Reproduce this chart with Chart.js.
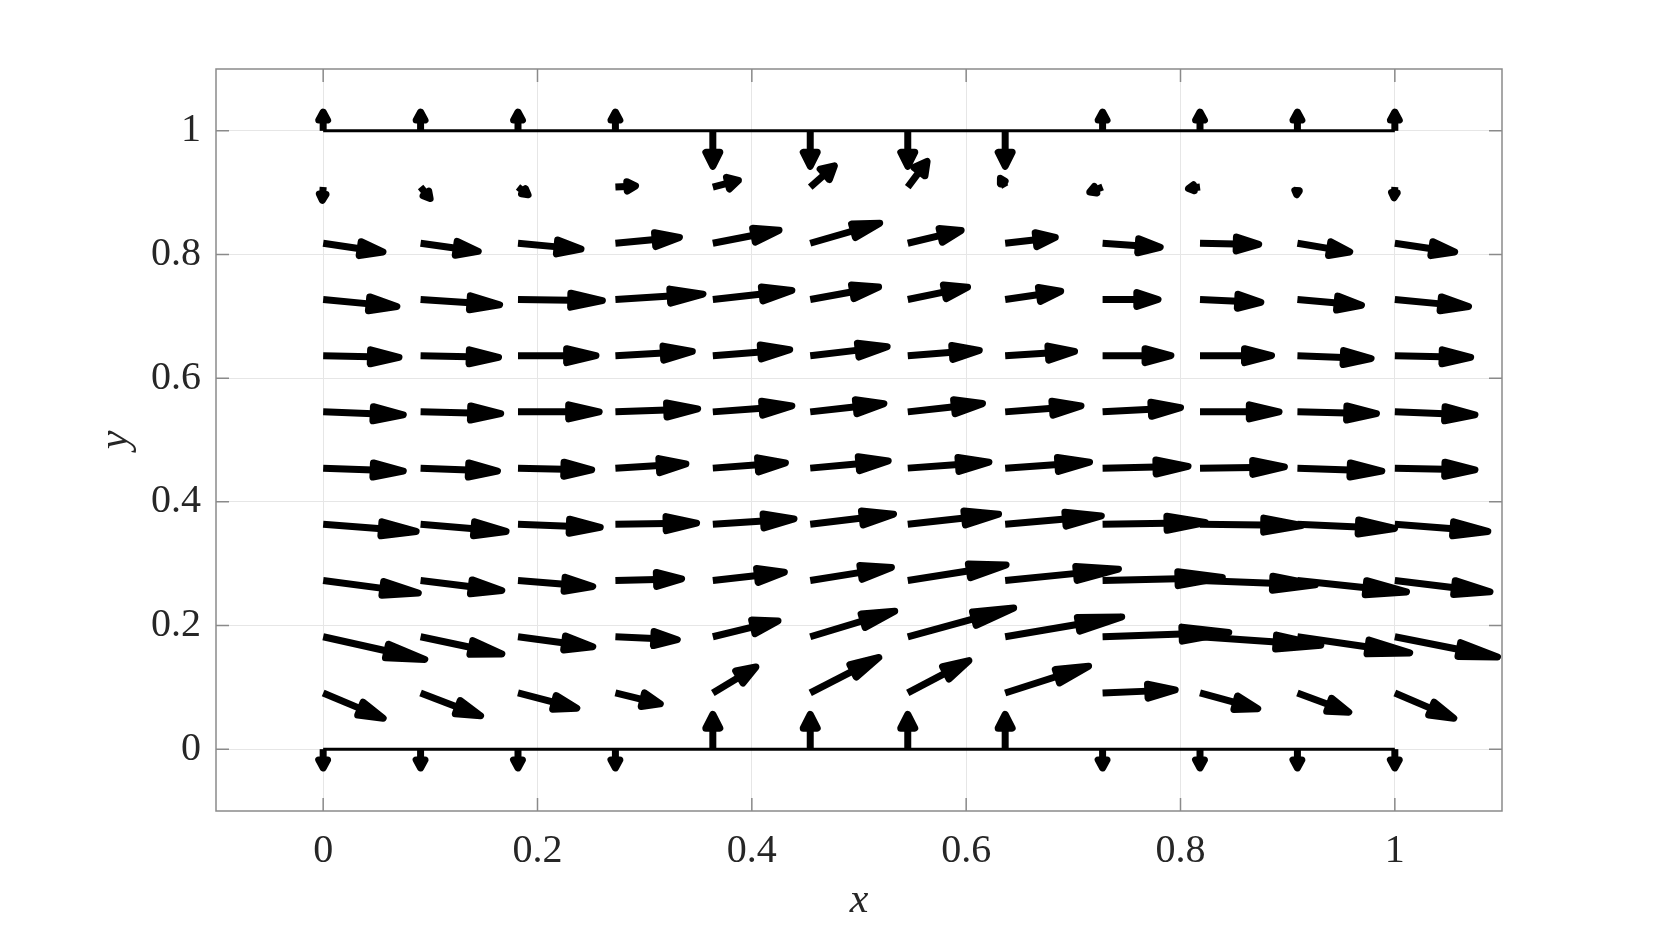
<!DOCTYPE html>
<html><head><meta charset="utf-8">
<script src="https://cdn.jsdelivr.net/npm/chart.js@4.4.1/dist/chart.umd.min.js"></script>
<style>html,body{margin:0;padding:0;background:#fff;}canvas{display:block;}</style>
</head><body>
<canvas id="c" width="1661" height="930" style="width:1661px;height:930px"></canvas>
<script>
// grid node positions
const xGrid = [0, 0.0909, 0.1818, 0.2727, 0.3636, 0.4545, 0.5455, 0.6364, 0.7273, 0.8182, 0.9091, 1];
const yGrid = [0, 0.0909, 0.1818, 0.2727, 0.3636, 0.4545, 0.5455, 0.6364, 0.7273, 0.8182, 0.9091, 1];
// vector components (data units), one row per yGrid value
const U = [
  [0,0,0,0,0,0,0,0,0,0,0,0],
  [0.059,0.059,0.058,0.045,0.043,0.067,0.060,0.081,0.071,0.057,0.051,0.058],
  [0.098,0.079,0.073,0.061,0.064,0.082,0.102,0.112,0.121,0.116,0.108,0.099],
  [0.092,0.079,0.073,0.065,0.070,0.079,0.095,0.109,0.115,0.111,0.105,0.092],
  [0.090,0.083,0.080,0.079,0.079,0.081,0.088,0.093,0.099,0.098,0.094,0.090],
  [0.078,0.075,0.072,0.069,0.071,0.076,0.079,0.082,0.083,0.082,0.082,0.078],
  [0.078,0.078,0.079,0.080,0.077,0.072,0.073,0.074,0.076,0.077,0.077,0.078],
  [0.074,0.076,0.076,0.075,0.075,0.075,0.070,0.068,0.067,0.070,0.072,0.074],
  [0.072,0.077,0.082,0.085,0.077,0.067,0.059,0.055,0.055,0.060,0.063,0.072],
  [0.059,0.057,0.062,0.063,0.065,0.068,0.053,0.050,0.057,0.058,0.052,0.059],
  [-0.001,0.011,0.012,0.022,0.027,0.025,0.020,-0.006,-0.015,-0.014,-0.001,-0.001],
  [0,0,0,0,0,0,0,0,0,0,0,0]
];
const V = [
  [-0.036,-0.036,-0.036,-0.036,0.062,0.062,0.062,0.062,-0.036,-0.036,-0.036,-0.036],
  [-0.043,-0.039,-0.026,-0.019,0.045,0.060,0.055,0.045,0.005,-0.027,-0.033,-0.043],
  [-0.038,-0.029,-0.017,-0.005,0.027,0.043,0.048,0.033,0.007,-0.014,-0.027,-0.034],
  [-0.021,-0.017,-0.010,0.003,0.014,0.022,0.026,0.019,0.005,-0.007,-0.019,-0.019],
  [-0.012,-0.012,-0.005,0.002,0.009,0.017,0.017,0.014,0.003,-0.002,-0.007,-0.012],
  [-0.005,-0.005,-0.003,0.007,0.009,0.012,0.010,0.010,0.003,0.002,-0.005,-0.003],
  [-0.005,-0.003,0,0.005,0.010,0.014,0.014,0.010,0.007,0,-0.003,-0.005],
  [-0.003,-0.003,0,0.007,0.010,0.015,0.009,0.007,0,0,-0.005,-0.003],
  [-0.012,-0.009,-0.002,0.009,0.015,0.021,0.021,0.014,0,-0.005,-0.010,-0.012],
  [-0.015,-0.014,-0.010,0.010,0.022,0.034,0.022,0.010,-0.007,-0.002,-0.015,-0.015],
  [-0.027,-0.023,-0.016,0.002,0.012,0.038,0.046,0.019,-0.010,-0.003,-0.018,-0.023],
  [0.036,0.036,0.036,0.036,-0.063,-0.063,-0.063,-0.063,0.036,0.036,0.036,0.036]
];
const xTickValues = [0, 0.2, 0.4, 0.6, 0.8, 1];
const yTickValues = [0, 0.2, 0.4, 0.6, 0.8, 1];
const xTickLabels = ['0', '0.2', '0.4', '0.6', '0.8', '1'];
const yTickLabels = ['0', '0.2', '0.4', '0.6', '0.8', '1'];
const wallX = [0, 1];
const wallBottomY = 0;
const wallTopY = 1;

const arrows = [];
for (let j = 0; j < yGrid.length; j++) {
  for (let i = 0; i < xGrid.length; i++) {
    arrows.push({x: xGrid[i], y: yGrid[j], u: U[j][i], v: V[j][i]});
  }
}

const quiver = {
  id: 'quiver',
  afterDatasetsDraw(chart) {
    const ctx = chart.ctx, xs = chart.scales.x, ys = chart.scales.y;
    const ds = chart.data.datasets[0];
    ctx.save();
    ctx.fillStyle = '#000'; ctx.strokeStyle = '#000';
    ds.data.forEach(p => {
      const x0 = xs.getPixelForValue(p.x), y0 = ys.getPixelForValue(p.y);
      const x1 = xs.getPixelForValue(p.x + p.u), y1 = ys.getPixelForValue(p.y + p.v);
      const dx = x1 - x0, dy = y1 - y0, L = Math.hypot(dx, dy);
      if (L < 1) return;
      const ux = dx / L, uy = dy / L;
      const lw = 7, r = lw / 2;
      const Lg = Math.max(L - r, 1);
      const tx = x0 + ux * Lg, ty = y0 + uy * Lg;
      const h = 0.36 * L, w = Math.min(7, 0.2 * L);
      const bx = tx - ux * h, by = ty - uy * h;
      ctx.lineWidth = lw; ctx.lineCap = 'butt'; ctx.lineJoin = 'round';
      ctx.beginPath(); ctx.moveTo(x0, y0); ctx.lineTo(bx, by); ctx.stroke();
      ctx.beginPath();
      ctx.moveTo(tx, ty);
      ctx.lineTo(bx - uy * w, by + ux * w);
      ctx.lineTo(bx + uy * w, by - ux * w);
      ctx.closePath(); ctx.fill(); ctx.stroke();
    });
    ctx.restore();
  }
};

const frame = {
  id: 'frame',
  afterDraw(chart) {
    const ctx = chart.ctx, a = chart.chartArea, xs = chart.scales.x, ys = chart.scales.y;
    ctx.save();
    ctx.strokeStyle = '#8a8a8a'; ctx.lineWidth = 1.5;
    ctx.strokeRect(a.left, a.top, a.right - a.left, a.bottom - a.top);
    const tl = 13;
    ctx.beginPath();
    xTickValues.forEach(v => {
      const px = xs.getPixelForValue(v);
      ctx.moveTo(px, a.bottom); ctx.lineTo(px, a.bottom - tl);
      ctx.moveTo(px, a.top); ctx.lineTo(px, a.top + tl);
    });
    yTickValues.forEach(v => {
      const py = ys.getPixelForValue(v);
      ctx.moveTo(a.left, py); ctx.lineTo(a.left + tl, py);
      ctx.moveTo(a.right, py); ctx.lineTo(a.right - tl, py);
    });
    ctx.stroke();
    ctx.restore();
  }
};

const tickFont = {family: "'Liberation Serif', 'Times New Roman', serif", size: 40};
const titleFont = {family: "'Liberation Serif', 'Times New Roman', serif", size: 42, style: 'italic'};

new Chart(document.getElementById('c'), {
  type: 'scatter',
  data: {
    datasets: [
      {label: 'velocity', data: arrows, pointRadius: 0, pointHoverRadius: 0},
      {label: 'bottom wall', data: [{x: wallX[0], y: wallBottomY}, {x: wallX[1], y: wallBottomY}], showLine: true, borderColor: '#000', borderWidth: 3, pointRadius: 0},
      {label: 'top wall', data: [{x: wallX[0], y: wallTopY}, {x: wallX[1], y: wallTopY}], showLine: true, borderColor: '#000', borderWidth: 3, pointRadius: 0}
    ]
  },
  options: {
    responsive: false,
    animation: false,
    devicePixelRatio: 1,
    layout: {padding: {left: 0, right: 159, top: 69, bottom: 0}},
    plugins: {legend: {display: false}, tooltip: {enabled: false}},
    scales: {
      x: {
        type: 'linear', min: -0.1, max: 1.1,
        afterBuildTicks: s => { s.ticks = xTickValues.map(v => ({value: v})); },
        afterFit: s => { s.height = 119; },
        ticks: {font: tickFont, color: '#262626', padding: 16, maxRotation: 0, autoSkip: false,
                callback: (v, i) => xTickLabels[i]},
        grid: {color: '#e6e6e6', lineWidth: 1, drawTicks: false},
        border: {display: false},
        title: {display: true, text: 'x', font: titleFont, color: '#262626', padding: {top: 0, bottom: 4}}
      },
      y: {
        type: 'linear', min: -0.1, max: 1.1,
        afterBuildTicks: s => { s.ticks = yTickValues.map(v => ({value: v})); },
        afterFit: s => { s.width = 216; },
        ticks: {font: tickFont, color: '#262626', padding: 15, autoSkip: false,
                callback: (v, i) => yTickLabels[i]},
        grid: {color: '#e6e6e6', lineWidth: 1, drawTicks: false},
        border: {display: false},
        title: {display: true, text: 'y', font: titleFont, color: '#262626', padding: {top: 91, bottom: 0}}
      }
    }
  },
  plugins: [quiver, frame]
});
</script>
</body></html>
